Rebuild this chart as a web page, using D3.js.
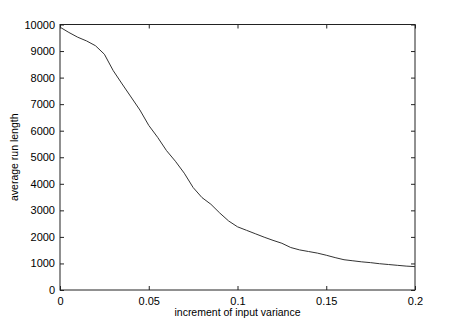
<!DOCTYPE html>
<html>
<head>
<meta charset="utf-8">
<script src="https://cdn.jsdelivr.net/npm/d3@7"></script>
<style>
  body { margin: 0; background: #fff; }
  svg { display: block; font-family: "Liberation Sans", Arial, sans-serif; }
</style>
</head>
<body>
<svg id="chart" width="458" height="327"></svg>
<script>
const increments = [
  0, 0.005, 0.01, 0.015, 0.02, 0.025, 0.03, 0.035, 0.04, 0.045,
  0.05, 0.055, 0.06, 0.065, 0.07, 0.075, 0.08, 0.085, 0.09, 0.095,
  0.1, 0.105, 0.11, 0.115, 0.12, 0.125, 0.13, 0.135, 0.14, 0.145,
  0.15, 0.155, 0.16, 0.165, 0.17, 0.175, 0.18, 0.185, 0.19, 0.195, 0.2
]
const runLengths = [
  9900, 9700, 9520, 9380, 9200, 8880, 8260, 7760, 7270, 6780,
  6200, 5750, 5250, 4850, 4400, 3860, 3480, 3230, 2900, 2600,
  2380, 2250, 2120, 1990, 1870, 1760, 1600, 1510, 1450, 1390,
  1310, 1220, 1140, 1100, 1060, 1030, 990, 960, 930, 900, 880
]
const xTicks = [0, 0.05, 0.1, 0.15, 0.2]
const yTicks = [0, 1000, 2000, 3000, 4000, 5000, 6000, 7000, 8000, 9000, 10000]

const svg = d3.select('#chart')
const margin = { top: 24.5, right: 43, bottom: 37, left: 60 }
const width = 458, height = 327
const innerWidth = width - margin.left - margin.right
const innerHeight = height - margin.top - margin.bottom

const g = svg.append('g')
  .attr('transform', `translate(${margin.left},${margin.top})`)

const x = d3.scaleLinear().domain([0, 0.2]).range([0, innerWidth])
const y = d3.scaleLinear().domain([0, 10000]).range([innerHeight, 0])

const fmt = d => d === 0 ? '0' : String(+d.toFixed(2))

// box with inward ticks on all sides
const tickLen = 4
const axisStyle = sel => {
  sel.select('.domain').remove()
  sel.selectAll('line').attr('stroke', '#222')
  sel.selectAll('text').attr('font-size', 11).attr('fill', '#000')
}
const noLabels = sel => {
  sel.select('.domain').remove()
  sel.selectAll('text').remove()
  sel.selectAll('line').attr('stroke', '#222')
}

g.append('g')
  .attr('transform', `translate(0,${innerHeight})`)
  .call(d3.axisBottom(x).tickValues(xTicks).tickFormat(fmt).tickSizeInner(-tickLen).tickSizeOuter(0).tickPadding(7))
  .call(axisStyle)

g.append('g')
  .call(d3.axisTop(x).tickValues(xTicks).tickSizeInner(-tickLen).tickSizeOuter(0))
  .call(noLabels)

g.append('g')
  .call(d3.axisLeft(y).tickValues(yTicks).tickFormat(d3.format('d')).tickSizeInner(-tickLen).tickSizeOuter(0).tickPadding(5))
  .call(axisStyle)

g.append('g')
  .attr('transform', `translate(${innerWidth},0)`)
  .call(d3.axisRight(y).tickValues(yTicks).tickSizeInner(-tickLen).tickSizeOuter(0))
  .call(noLabels)

g.append('rect')
  .attr('width', innerWidth)
  .attr('height', innerHeight)
  .attr('fill', 'none')
  .attr('stroke', '#222')
  .attr('stroke-width', 1)

// curve
const line = d3.line()
  .x((d, i) => x(increments[i]))
  .y(d => y(d))

g.append('path')
  .datum(runLengths)
  .attr('fill', 'none')
  .attr('stroke', '#333')
  .attr('stroke-width', 1)
  .attr('d', line)

// axis labels
svg.append('text')
  .attr('x', margin.left + innerWidth / 2)
  .attr('y', 316)
  .attr('text-anchor', 'middle')
  .attr('font-size', 10.5)
  .text('increment of input variance')

svg.append('text')
  .attr('transform', `translate(18,${margin.top + innerHeight / 2}) rotate(-90)`)
  .attr('text-anchor', 'middle')
  .attr('font-size', 10.5)
  .text('average run length')
</script>
</body>
</html>
